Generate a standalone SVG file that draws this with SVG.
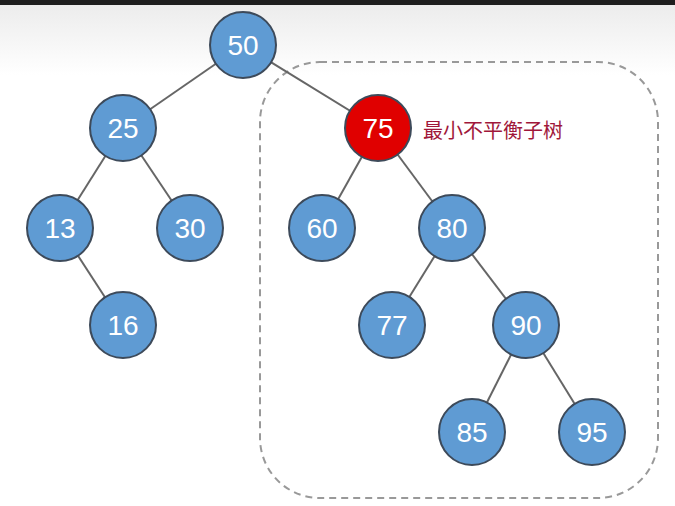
<svg xmlns="http://www.w3.org/2000/svg" width="675" height="506" viewBox="0 0 675 506">
<defs>
<linearGradient id="bg" x1="0" y1="0" x2="0" y2="1">
<stop offset="0" stop-color="#ececec"/><stop offset="1" stop-color="#ffffff"/>
</linearGradient>
<style>
.n circle{fill:#5f9bd3;stroke:#3d4a5a;stroke-width:2}
.n text{fill:#fff;font-family:"Liberation Sans",Arial,sans-serif;font-size:28px;text-anchor:middle;dominant-baseline:central}
.e line{stroke:#666;stroke-width:2}
</style>
</defs>
<rect width="675" height="506" fill="#fff"/>
<rect y="5" width="675" height="70" fill="url(#bg)"/>
<rect width="675" height="5" fill="#1e1e1e"/>
<rect x="260" y="62" width="398" height="436" rx="60" fill="none" stroke="#999" stroke-width="2" stroke-dasharray="7,5"/>
<g class="e" id="edges">
<line x1="243" y1="45" x2="123" y2="128"/><line x1="243" y1="45" x2="378" y2="128"/>
<line x1="123" y1="128" x2="60" y2="228"/><line x1="123" y1="128" x2="190" y2="228"/>
<line x1="60" y1="228" x2="123" y2="325"/>
<line x1="378" y1="128" x2="322" y2="228"/><line x1="378" y1="128" x2="452" y2="228"/>
<line x1="452" y1="228" x2="392" y2="325"/><line x1="452" y1="228" x2="526" y2="325"/>
<line x1="526" y1="325" x2="472" y2="432"/><line x1="526" y1="325" x2="592" y2="432"/>
</g>
<g class="n" id="n50"><circle cx="243" cy="45" r="33"/><text x="243" y="45">50</text></g>
<g class="n" id="n25"><circle cx="123" cy="128" r="33"/><text x="123" y="128">25</text></g>
<g class="n" id="n75"><circle cx="378" cy="128" r="33" style="fill:#e00000"/><text x="378" y="128">75</text></g>
<g class="n" id="n13"><circle cx="60" cy="228" r="33"/><text x="60" y="228">13</text></g>
<g class="n" id="n30"><circle cx="190" cy="228" r="33"/><text x="190" y="228">30</text></g>
<g class="n" id="n60"><circle cx="322" cy="228" r="33"/><text x="322" y="228">60</text></g>
<g class="n" id="n80"><circle cx="452" cy="228" r="33"/><text x="452" y="228">80</text></g>
<g class="n" id="n16"><circle cx="123" cy="325" r="33"/><text x="123" y="325">16</text></g>
<g class="n" id="n77"><circle cx="392" cy="325" r="33"/><text x="392" y="325">77</text></g>
<g class="n" id="n90"><circle cx="526" cy="325" r="33"/><text x="526" y="325">90</text></g>
<g class="n" id="n85"><circle cx="472" cy="432" r="33"/><text x="472" y="432">85</text></g>
<g class="n" id="n95"><circle cx="592" cy="432" r="33"/><text x="592" y="432">95</text></g>
<text x="423" y="138" fill="#a0173a" font-family="'Noto Sans CJK SC',sans-serif" font-size="20">最小不平衡子树</text>
</svg>
